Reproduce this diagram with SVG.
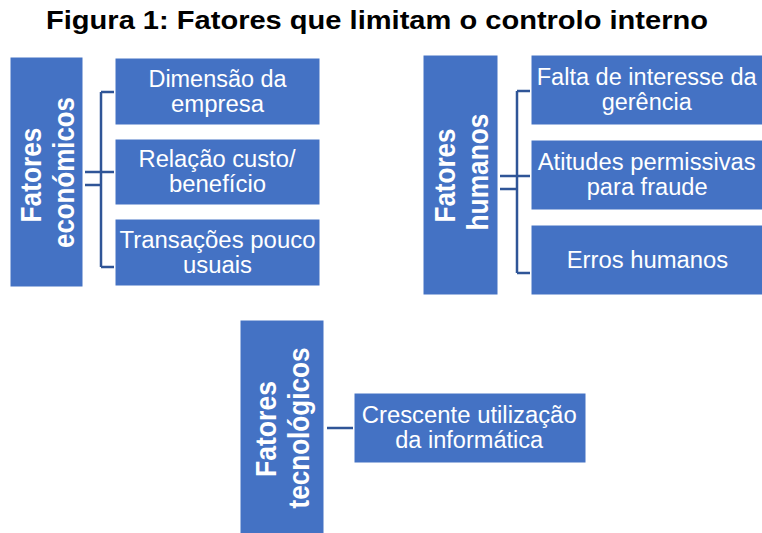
<svg xmlns="http://www.w3.org/2000/svg" width="762" height="533" viewBox="0 0 762 533">
<style>
.box{fill:#4472C4;stroke:#ffffff;stroke-width:1}
.t{font-family:"Liberation Sans",Arial,sans-serif;font-size:23px;fill:#ffffff;text-anchor:middle}
.v{font-family:"Liberation Sans",Arial,sans-serif;font-size:29px;font-weight:bold;fill:#ffffff;text-anchor:middle}
.title{font-family:"Liberation Sans",Arial,sans-serif;font-size:26px;font-weight:bold;fill:#000000}
.c{stroke:#2F5597;stroke-width:2.5;fill:none}
</style>
<rect width="762" height="533" fill="#ffffff"/>
<text class="title" x="46" y="29" textLength="662" lengthAdjust="spacingAndGlyphs">Figura 1: Fatores que limitam o controlo interno</text>

<g id="connectors">
<path class="c" d="M85 172H114M85 185H101M101 92V267M101 92H114M101 267H114"/>
<path class="c" d="M500 176H530M500 189H517M517 91V273M517 91H530M517 273H530"/>
<path class="c" d="M327 428H353"/>
</g>

<g id="economicos">
<rect class="box" x="10" y="57" width="73" height="230"/>
<text class="v" transform="translate(40.5,175) rotate(-90)" x="0" y="0" textLength="95" lengthAdjust="spacingAndGlyphs">Fatores</text>
<text class="v" transform="translate(73.5,172.5) rotate(-90)" x="0" y="0" textLength="151" lengthAdjust="spacingAndGlyphs">económicos</text>
</g>
<g id="dimensao">
<rect class="box" x="115" y="58" width="205" height="67"/>
<text class="t" x="217.5" y="86.5" textLength="138" lengthAdjust="spacingAndGlyphs">Dimensão da</text>
<text class="t" x="217.5" y="111.5" textLength="93" lengthAdjust="spacingAndGlyphs">empresa</text>
</g>
<g id="relacao">
<rect class="box" x="115" y="139" width="205" height="66"/>
<text class="t" x="217" y="167" textLength="157" lengthAdjust="spacingAndGlyphs">Relação custo/</text>
<text class="t" x="217.5" y="192" textLength="97" lengthAdjust="spacingAndGlyphs">benefício</text>
</g>
<g id="transacoes">
<rect class="box" x="115" y="219" width="205" height="67"/>
<text class="t" x="217.5" y="247.5" textLength="196" lengthAdjust="spacingAndGlyphs">Transações pouco</text>
<text class="t" x="217.5" y="272.5" textLength="69" lengthAdjust="spacingAndGlyphs">usuais</text>
</g>

<g id="humanos">
<rect class="box" x="423" y="55" width="75" height="240"/>
<text class="v" transform="translate(454.5,175.5) rotate(-90)" x="0" y="0" textLength="94" lengthAdjust="spacingAndGlyphs">Fatores</text>
<text class="v" transform="translate(487.5,172) rotate(-90)" x="0" y="0" textLength="117" lengthAdjust="spacingAndGlyphs">humanos</text>
</g>
<g id="falta">
<rect class="box" x="531" y="55" width="232" height="70"/>
<text class="t" x="646.7" y="85" textLength="220" lengthAdjust="spacingAndGlyphs">Falta de interesse da</text>
<text class="t" x="646.7" y="110" textLength="90" lengthAdjust="spacingAndGlyphs">gerência</text>
</g>
<g id="atitudes">
<rect class="box" x="531" y="140" width="232" height="70"/>
<text class="t" x="646.7" y="170" textLength="218" lengthAdjust="spacingAndGlyphs">Atitudes permissivas</text>
<text class="t" x="647.2" y="195" textLength="121" lengthAdjust="spacingAndGlyphs">para fraude</text>
</g>
<g id="erros">
<rect class="box" x="531" y="225" width="232" height="70"/>
<text class="t" x="647.5" y="267.5" textLength="161.6" lengthAdjust="spacingAndGlyphs">Erros humanos</text>
</g>

<g id="tecnologicos">
<rect class="box" x="240" y="320" width="84" height="216"/>
<text class="v" transform="translate(276,429) rotate(-90)" x="0" y="0" textLength="96" lengthAdjust="spacingAndGlyphs">Fatores</text>
<text class="v" transform="translate(309,428) rotate(-90)" x="0" y="0" textLength="161" lengthAdjust="spacingAndGlyphs">tecnológicos</text>
</g>
<g id="crescente">
<rect class="box" x="354" y="393" width="232" height="70"/>
<text class="t" x="469.2" y="423" textLength="215" lengthAdjust="spacingAndGlyphs">Crescente utilização</text>
<text class="t" x="469.2" y="448" textLength="148" lengthAdjust="spacingAndGlyphs">da informática</text>
</g>
</svg>
